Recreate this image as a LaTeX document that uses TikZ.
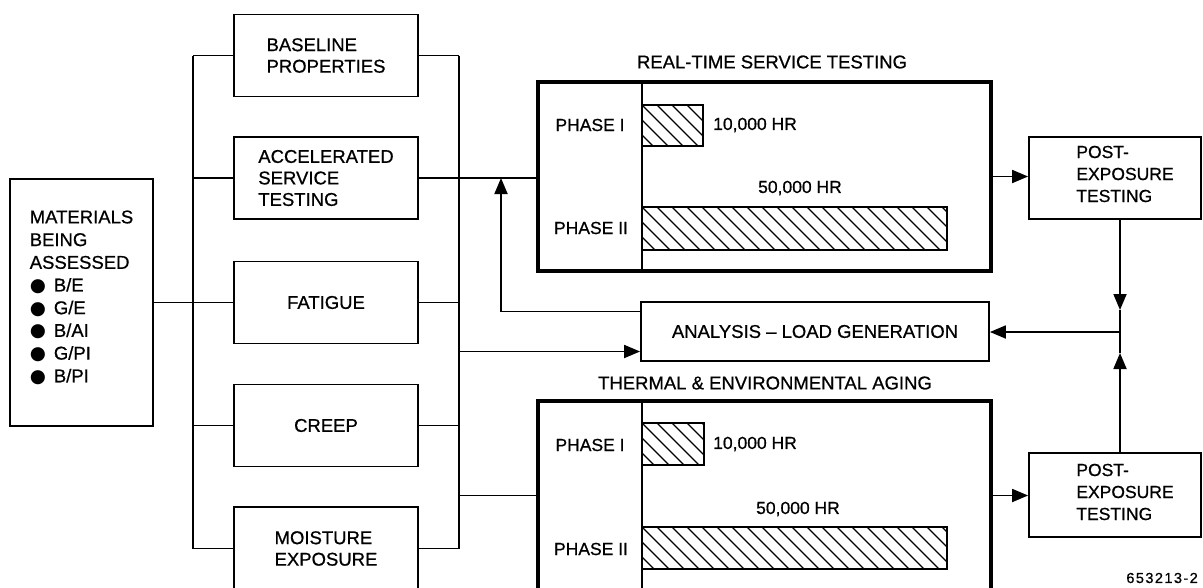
\documentclass[tikz,border=0pt]{standalone}
\usepackage{fontspec}
\setmainfont{Liberation Sans}[FakeBold=0.7]
\newfontfamily\dejavu{DejaVu Sans}
\usetikzlibrary{arrows.meta}
\tikzset{
  conn/.style={line width=1.8pt},
  box/.style={draw, line width=1.8pt, minimum width=184pt, minimum height=82pt, inner sep=0pt, align=left, font=\fontsize{18.5}{21.5}\selectfont},
  thickbox/.style={draw, line width=4.5pt, minimum width=453pt, minimum height=189pt, inner sep=0pt},
  lbl/.style={inner sep=0pt, font=\fontsize{17.5}{21}\selectfont},
  ttl/.style={inner sep=0pt, font=\fontsize{18.5}{22}\selectfont},
  arr/.style={conn, -{Triangle[length=16pt,width=13pt]}},
  hatch/.style={line width=1.3pt},
  barline/.style={line width=1.8pt},
  divider/.style={line width=1.4pt},
}
\newcommand\hatchbar[4]{%
  \begin{scope}
    \clip (#1,#2) rectangle (#3,#4);
    \foreach \xx in {-60,-45,...,330} \draw[hatch] ({#1+\xx},#2) -- ({#1+\xx+#4-#2},#4);
  \end{scope}
  \draw[barline] (#1,#2) rectangle (#3,#4);}
\newcommand\bul{{\dejavu ●}\hspace{8pt}}
\begin{document}
\begin{tikzpicture}[x=1pt,y=-1pt]
\useasboundingbox[fill=white] (0,0) rectangle (1203,587);
% materials
\node[draw, conn, minimum width=143pt, minimum height=247pt, inner sep=0pt] (mat) at (81.5,302.5) {};
\node[inner sep=0pt, align=left, font=\fontsize{18.5}{22.7}\selectfont] (mattext) at (81.5,297.5)
  {MATERIALS\\BEING\\ASSESSED\\\bul B/E\\\bul G/E\\\bul B/AI\\\bul G/PI\\\bul B/PI};
% middle column
\node[box] (base) at (326,55.5) {BASELINE\\PROPERTIES};
\node[box] (accel) at (326,178) {ACCELERATED\\SERVICE\\TESTING};
\node[box] (fat) at (326,302.5) {FATIGUE};
\node[box] (creep) at (326,425.5) {CREEP};
\node[box, minimum height=83pt] (moist) at (326,548.5) {MOISTURE\\EXPOSURE};
% buses
\coordinate (bL1) at (193,55.5); \coordinate (bL2) at (193,548.5);
\draw[conn] (bL1) -- (bL2);
\draw[conn] (mat.east) -- (mat.east -| bL1);
\foreach \n in {base,accel,fat,creep,moist} \draw[conn] (\n.west -| bL1) -- (\n.west);
\coordinate (bR1) at (459,55.5); \coordinate (bR2) at (459,548.5);
\draw[conn] (bR1) -- (bR2);
\foreach \n in {base,fat,creep,moist} \draw[conn] (\n.east) -- (\n.east -| bR1);
% test boxes
\node[thickbox] (rt) at (764.5,176.5) {};
\node[thickbox] (th) at (764.5,495.5) {};
\draw[conn] (accel.east) -- (accel.east -| rt.west);
\draw[conn] (th.west -| bR1) -- (th.west);
\node[ttl] (rttl) at (772,62) {REAL-TIME SERVICE TESTING};
\node[ttl] (thttl) at (765,383) {THERMAL \& ENVIRONMENTAL AGING};
\draw[divider] (642,82) -- (642,271);
\draw[divider] (642,401) -- (642,590);
\hatchbar{642}{105}{703}{146}
\hatchbar{642}{207}{947}{250}
\hatchbar{642}{423}{704}{465}
\hatchbar{642}{527}{947}{569}
\node[lbl] (p1a) at (590,125) {PHASE I};
\node[lbl] (p2a) at (591,228) {PHASE II};
\node[lbl, anchor=west] (h1a) at (713,125) {10,000 HR};
\node[lbl] (h2a) at (800,188) {50,000 HR};
\node[lbl] (p1b) at (590,445) {PHASE I};
\node[lbl] (p2b) at (591,549) {PHASE II};
\node[lbl, anchor=west] (h1b) at (713,444) {10,000 HR};
\node[lbl] (h2b) at (798,509) {50,000 HR};
% analysis
\node[draw, conn, minimum width=348pt, minimum height=59pt, inner sep=0pt, font=\fontsize{18.5}{22}\selectfont] (ana) at (815,331.5) {ANALYSIS – LOAD GENERATION};
\coordinate (fb) at (501,178);
\draw[arr] ([yshift=20pt]ana.west) -| (fb);
\coordinate (anaIn) at ([yshift=-20pt]ana.west);
\draw[arr] (anaIn -| bR1) -- (anaIn);
% post exposure
\node[draw, conn, minimum width=172pt, minimum height=82pt, inner sep=0pt] (postA) at (1115,178) {};
\node[lbl, align=left, font=\fontsize{17.5}{22}\selectfont] (postAt) at (1125,174) {POST-\\EXPOSURE\\TESTING};
\node[draw, conn, minimum width=172pt, minimum height=84pt, inner sep=0pt] (postB) at (1115,495) {};
\node[lbl, align=left, font=\fontsize{17.5}{22}\selectfont] (postBt) at (1125,492) {POST-\\EXPOSURE\\TESTING};
\draw[arr] (rt.east) -- (rt.east -| postA.west);
\draw[arr] (th.east) -- (th.east -| postB.west);
\coordinate (jn) at (1120,332);
\draw[arr] (postA.south -| jn) -- ([yshift=22pt]jn);
\draw[conn] ([yshift=22pt]jn) -- ([yshift=-21pt]jn);
\draw[arr] (postB.north -| jn) -- ([yshift=-21pt]jn);
\draw[arr] (jn) -- (jn -| ana.east);
\node[inner sep=0pt, anchor=east, font=\fontsize{14.5}{16}\selectfont\addfontfeature{LetterSpace=10}] (fig) at (1198,578) {653213-2};
\end{tikzpicture}
\end{document}
